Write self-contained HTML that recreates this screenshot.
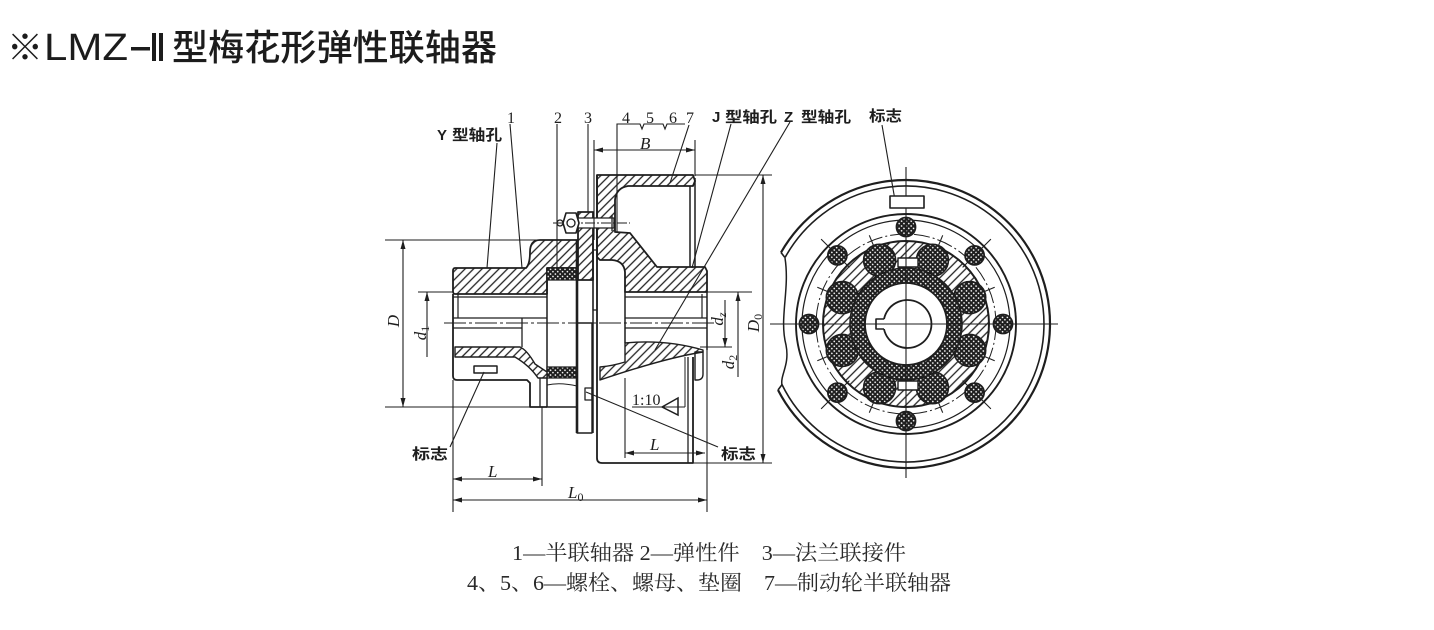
<!DOCTYPE html>
<html><head><meta charset="utf-8">
<style>
html,body{margin:0;padding:0;background:#fff;}
body{width:1434px;height:630px;position:relative;overflow:hidden;}
svg{position:absolute;left:0;top:0;}
.n{font-family:"Liberation Serif",serif;font-size:16px;fill:#1e1e1e;}
.i{font-family:"Liberation Serif",serif;font-size:17px;font-style:italic;fill:#1e1e1e;}
.c{font-family:"Liberation Sans","Noto Sans CJK SC",sans-serif;font-size:15px;font-weight:bold;fill:#1e1e1e;}
.cap{font-family:"Liberation Serif","Noto Serif CJK SC",serif;font-size:21px;fill:#2a2a2a;}
.t{font-family:"Liberation Sans","Noto Sans CJK SC",sans-serif;fill:#1c1c1c;font-weight:500;}
</style></head><body>
<svg width="1434" height="630" viewBox="0 0 1434 630" xmlns="http://www.w3.org/2000/svg">
<defs>
<pattern id="h" width="6" height="6" patternUnits="userSpaceOnUse" patternTransform="rotate(45)">
<rect width="6" height="6" fill="#fff"/>
<line x1="3" y1="0" x2="3" y2="6" stroke="#222" stroke-width="1.3"/>
</pattern>
<pattern id="x" width="3.4" height="3.4" patternUnits="userSpaceOnUse" patternTransform="rotate(45)">
<rect width="3.4" height="3.4" fill="#1e1e1e"/>
<circle cx="1.7" cy="1.7" r="0.85" fill="#fff"/>
</pattern>
</defs>
<rect width="1434" height="630" fill="#fff"/>

<!-- Title -->
<text x="7" y="60" class="t" font-size="36" font-family="Noto Sans CJK SC">※</text>
<text x="44" y="60" class="t" font-size="38" textLength="84" lengthAdjust="spacingAndGlyphs">LMZ</text>
<rect x="131" y="47" width="19" height="3.5" fill="#1c1c1c"/>
<rect x="152" y="33" width="4" height="28" fill="#1c1c1c"/>
<rect x="159" y="33" width="4" height="28" fill="#1c1c1c"/>
<text x="172" y="60" class="t" font-size="36" textLength="325" lengthAdjust="spacingAndGlyphs">型梅花形弹性联轴器</text>

<!-- LEFT DRAWING -->
<g fill="none" stroke="#1e1e1e" stroke-width="1.8" stroke-linejoin="round">
<!-- left hub upper hatched -->
<path d="M455,268 L526,268 Q530,264 530,252 Q530,240 540,240 L577,240 L577,268 L547,268 L547,294 L455,294 Q453,294 453,291 L453,271 Q453,268 455,268 Z" fill="url(#h)"/>
<!-- elastic element -->
<rect x="547" y="268" width="30" height="139" stroke-width="1.5"/>
<rect x="547" y="268" width="30" height="12" fill="url(#x)" stroke-width="1.2"/>
<rect x="547" y="367" width="30" height="11" fill="url(#x)" stroke-width="1.2"/>
<path d="M547,385 Q560,382 577,386" stroke-width="1"/>
<!-- part 3 upper -->
<rect x="578" y="212" width="15" height="68" fill="url(#h)"/>
<!-- part 7 upper -->
<path d="M597,175 L693,175 L695,181 L693,186 L628,186 Q616,188 615,200 L615,232 L630,233 L657,267 L705,267 L707,271 L707,292 L625,292 L625,272 Q624,261 612,260 L600,260 L597,257 Z" fill="url(#h)"/>
<line x1="690" y1="186" x2="690" y2="267" stroke-width="1.5"/>
<line x1="695" y1="178" x2="695" y2="267" stroke-width="1.5"/>
<!-- thick vertical and slot -->
<line x1="577" y1="240" x2="577" y2="433" stroke-width="2.6"/>
<line x1="593" y1="240" x2="593" y2="433" stroke-width="1.5"/>
<line x1="597" y1="175" x2="597" y2="458" stroke-width="1.8"/>
<rect x="593" y="250" width="4" height="60" stroke-width="1.2"/>
<!-- bolt -->
<rect x="578" y="218" width="36" height="10" fill="#fff" stroke-width="1.3"/>
<line x1="553" y1="223" x2="630" y2="223" stroke-width="1" stroke-dasharray="10 2 2 2"/>
<polygon points="566,213 576,213 579,223 576,233 566,233 563,223" fill="#fff" stroke-width="1.6"/>
<circle cx="571" cy="223" r="4" stroke-width="1.3"/>
<circle cx="560" cy="223" r="3" stroke-width="1.3"/>
<line x1="612" y1="215" x2="612" y2="231" stroke-width="1.3"/>
<!-- bore lines upper -->
<line x1="453" y1="297" x2="547" y2="297" stroke-width="1.2"/>
<line x1="453" y1="318" x2="547" y2="318" stroke-width="1.2"/>
<line x1="453" y1="294" x2="453" y2="376" stroke-width="1.8"/>
<line x1="458" y1="294" x2="458" y2="318" stroke-width="1.2"/>
<line x1="625" y1="297" x2="707" y2="297" stroke-width="1.2"/>
<line x1="625" y1="318" x2="707" y2="318" stroke-width="1.2"/>
<line x1="625" y1="292" x2="625" y2="343" stroke-width="1.5"/>
<line x1="702" y1="294" x2="702" y2="318" stroke-width="1.2"/>
<line x1="707" y1="292" x2="707" y2="350" stroke-width="1.5"/>
<!-- lower -->
<line x1="453" y1="328" x2="522" y2="328" stroke-width="1.2"/>
<line x1="625" y1="328" x2="707" y2="328" stroke-width="1.2"/>
<line x1="522" y1="318" x2="522" y2="347" stroke-width="1.3"/>
<path d="M453,376 Q453,380 457,380 L527,380 L530,383 L530,407 L547,407"/>
<line x1="540" y1="372" x2="540" y2="407" stroke-width="1.3"/>
<path d="M455,347 L520,347 Q527,350 535,364 L547,372 L547,378 L538,378 Q530,366 515,357 L455,357 Z" fill="url(#h)" stroke-width="1.4"/>
<rect x="474" y="366" width="23" height="7" stroke-width="1.5"/>
<rect x="577" y="323" width="15" height="110" stroke-width="1.4"/>
<rect x="585" y="388" width="7" height="12" stroke-width="1.3"/>
<path d="M597,458 Q597,463 602,463 L693,463 L693,357"/>
<line x1="688" y1="357" x2="688" y2="463" stroke-width="1.3"/>
<line x1="685" y1="357" x2="685" y2="407" stroke-width="1"/>
<path d="M625,343 Q665,339 703,350 L703,352 Q665,358 600,380 L600,367 Q612,366 625,362 Z" fill="url(#h)" stroke-width="1.4"/>
<path d="M695,352 L703,352 L703,374 Q703,380 697,380 L695,380 Z" stroke-width="1.4"/>
</g>

<!-- center line -->
<line x1="444" y1="323" x2="715" y2="323" stroke="#1e1e1e" stroke-width="1.1" stroke-dasharray="22 3 3 3"/>

<!-- dimension and leader lines -->
<g stroke="#1e1e1e" stroke-width="1.1" fill="none">
<line x1="385" y1="240" x2="578" y2="240"/>
<line x1="385" y1="407" x2="547" y2="407"/>
<line x1="403" y1="240" x2="403" y2="407"/>
<line x1="418" y1="292" x2="453" y2="292"/>
<line x1="427" y1="292" x2="427" y2="357"/>
<line x1="707" y1="292" x2="752" y2="292"/>
<line x1="738" y1="292" x2="738" y2="377"/>
<line x1="700" y1="347" x2="732" y2="347"/>
<line x1="725" y1="300" x2="725" y2="347"/>
<line x1="695" y1="175" x2="772" y2="175"/>
<line x1="690" y1="463" x2="772" y2="463"/>
<line x1="763" y1="175" x2="763" y2="463"/>
<line x1="594" y1="140" x2="594" y2="240"/>
<line x1="695" y1="140" x2="695" y2="176"/>
<line x1="594" y1="150" x2="695" y2="150"/>
<path d="M617,232 L617,124 L640,124 L642,129 L644,124 L663,124 L665,129 L667,124 L685,124"/>
<line x1="453" y1="380" x2="453" y2="512"/>
<line x1="542" y1="407" x2="542" y2="486"/>
<line x1="707" y1="350" x2="707" y2="512"/>
<line x1="625" y1="378" x2="625" y2="458"/>
<line x1="453" y1="479" x2="542" y2="479"/>
<line x1="453" y1="500" x2="707" y2="500"/>
<line x1="625" y1="453" x2="705" y2="453"/>
<!-- leaders -->
<line x1="497" y1="143" x2="487" y2="268"/>
<line x1="510" y1="124" x2="522" y2="268"/>
<line x1="557" y1="124" x2="557" y2="268"/>
<line x1="588" y1="124" x2="588" y2="212"/>
<line x1="689" y1="125" x2="670" y2="183"/>
<line x1="731" y1="124" x2="692" y2="268"/>
<line x1="790" y1="122" x2="655" y2="350"/>
<line x1="450" y1="447" x2="484" y2="372"/>
<line x1="718" y1="447" x2="586" y2="392"/>
<line x1="632" y1="407" x2="685" y2="407"/>
<polygon points="662,407 678,398 678,415" stroke-width="1.5"/>
</g>
<!-- arrowheads -->
<g fill="#1e1e1e">
<polygon points="594,150 603,147.5 603,152.5"/>
<polygon points="695,150 686,147.5 686,152.5"/>
<polygon points="403,240 400.5,249 405.5,249"/>
<polygon points="403,407 400.5,398 405.5,398"/>
<polygon points="427,292 424.5,301 429.5,301"/>
<polygon points="725,347 722.5,338 727.5,338"/>
<polygon points="738,292 735.5,301 740.5,301"/>
<polygon points="763,175 760.5,184 765.5,184"/>
<polygon points="763,463 760.5,454 765.5,454"/>
<polygon points="453,479 462,476.5 462,481.5"/>
<polygon points="542,479 533,476.5 533,481.5"/>
<polygon points="453,500 462,497.5 462,502.5"/>
<polygon points="707,500 698,497.5 698,502.5"/>
<polygon points="625,453 634,450.5 634,455.5"/>
<polygon points="705,453 696,450.5 696,455.5"/>
</g>

<!-- left drawing labels -->
<text x="507" y="123" class="n">1</text>
<text x="554" y="123" class="n">2</text>
<text x="584" y="123" class="n">3</text>
<text x="622" y="123" class="n">4</text>
<text x="646" y="123" class="n">5</text>
<text x="669" y="123" class="n">6</text>
<text x="686" y="123" class="n">7</text>
<text x="437" y="140" class="c" font-family="Liberation Sans">Y</text>
<text x="452" y="140" class="c" textLength="50" lengthAdjust="spacingAndGlyphs">型轴孔</text>
<text x="712" y="122" class="c" font-family="Liberation Sans">J</text>
<text x="725" y="122" class="c" textLength="52" lengthAdjust="spacingAndGlyphs">型轴孔</text>
<text x="784" y="122" class="c" font-family="Liberation Sans">Z</text>
<text x="801" y="122" class="c" textLength="50" lengthAdjust="spacingAndGlyphs">型轴孔</text>
<text x="869" y="121" class="c" textLength="33" lengthAdjust="spacingAndGlyphs">标志</text>
<text x="412" y="459" class="c" textLength="36" lengthAdjust="spacingAndGlyphs">标志</text>
<text x="721" y="459" class="c" textLength="35" lengthAdjust="spacingAndGlyphs">标志</text>
<text x="640" y="149" class="i">B</text>
<text x="488" y="477" class="i">L</text>
<text x="568" y="498" class="i">L<tspan font-size="12" dy="3" font-style="normal">0</tspan></text>
<text x="650" y="450" class="i">L</text>
<text x="632" y="405" class="n">1:10</text>
<text transform="translate(399,321) rotate(-90)" class="i" text-anchor="middle">D</text>
<text transform="translate(426,333) rotate(-90)" class="i" text-anchor="middle">d<tspan font-size="12" dy="3" font-style="normal">1</tspan></text>
<text transform="translate(723,319) rotate(-90)" class="i" text-anchor="middle">d<tspan font-size="12" dy="3">z</tspan></text>
<text transform="translate(734,362) rotate(-90)" class="i" text-anchor="middle">d<tspan font-size="12" dy="3" font-style="normal">2</tspan></text>
<text transform="translate(759,323) rotate(-90)" class="i" text-anchor="middle">D<tspan font-size="12" dy="3" font-style="normal">0</tspan></text>

<!-- RIGHT VIEW -->
<g fill="none" stroke="#1e1e1e" stroke-linejoin="round">
<path d="M781,252.5 A144,144 0 1 1 778,390" stroke-width="2.2"/>
<path d="M785,257.6 A138,138 0 1 1 782,384.6" stroke-width="1.6"/>
<line x1="781" y1="252.5" x2="785" y2="257.6" stroke-width="1.6"/>
<line x1="778" y1="390" x2="782" y2="384.6" stroke-width="1.6"/>
<path d="M785,258 C790,290 779,318 786,345 C790,365 780,375 782,385" stroke-width="1.5"/>
<circle cx="906" cy="324" r="110" stroke-width="1.9"/>
<circle cx="906" cy="324" r="104" stroke-width="1.2"/>
<circle cx="906" cy="324" r="90" stroke-width="1" stroke-dasharray="16 3 2 3"/>
<circle cx="906" cy="324" r="83" stroke-width="2" fill="url(#h)"/>
<!-- spider lobes -->
<g fill="url(#x)" stroke-width="1.6">
<circle cx="932.4" cy="260.3" r="16"/>
<circle cx="879.6" cy="260.3" r="16"/>
<circle cx="969.7" cy="297.6" r="16"/>
<circle cx="842.3" cy="297.6" r="16"/>
<circle cx="969.7" cy="350.4" r="16"/>
<circle cx="842.3" cy="350.4" r="16"/>
<circle cx="932.4" cy="387.7" r="16"/>
<circle cx="879.6" cy="387.7" r="16"/>
<circle cx="906" cy="324" r="56"/>
</g>
<rect x="898" y="258" width="20" height="9" fill="#fff" stroke-width="1.4"/>
<rect x="898" y="381" width="20" height="9" fill="#fff" stroke-width="1.4"/>
<circle cx="906" cy="324" r="41" fill="#fff" stroke-width="1.8"/>
<path d="M884,319 L876,319 L876,329 L884,329" stroke-width="1.6"/>
<path d="M884,319 A24,24 0 1 1 884,329" stroke-width="1.8"/>
<!-- bolts -->
<g fill="url(#x)" stroke-width="1.8">
<circle cx="906" cy="227" r="9.5"/>
<circle cx="906" cy="421" r="9.5"/>
<circle cx="809" cy="324" r="9.5"/>
<circle cx="1003" cy="324" r="9.5"/>
<circle cx="974.6" cy="255.4" r="9.5"/>
<circle cx="837.4" cy="255.4" r="9.5"/>
<circle cx="974.6" cy="392.6" r="9.5"/>
<circle cx="837.4" cy="392.6" r="9.5"/>
</g>
<g stroke-width="1.1">
<line x1="849.4" y1="267.4" x2="821.1" y2="239.1"/>
<line x1="962.6" y1="267.4" x2="990.9" y2="239.1"/>
<line x1="849.4" y1="380.6" x2="821.1" y2="408.9"/>
<line x1="962.6" y1="380.6" x2="990.9" y2="408.9"/>
<line x1="938.1" y1="246.4" x2="942.7" y2="235.3"/>
<line x1="873.9" y1="246.4" x2="869.3" y2="235.3"/>
<line x1="983.6" y1="291.9" x2="994.7" y2="287.3"/>
<line x1="828.4" y1="291.9" x2="817.3" y2="287.3"/>
<line x1="983.6" y1="356.1" x2="994.7" y2="360.7"/>
<line x1="828.4" y1="356.1" x2="817.3" y2="360.7"/>
<line x1="938.1" y1="401.6" x2="942.7" y2="412.7"/>
<line x1="873.9" y1="401.6" x2="869.3" y2="412.7"/>
<line x1="906" y1="167" x2="906" y2="478"/>
<line x1="770" y1="324" x2="1058" y2="324"/>
<line x1="882" y1="125" x2="896" y2="206"/>
</g>
<rect x="890" y="196" width="34" height="12" fill="#fff" stroke-width="1.6"/>
</g>

<!-- caption -->
<text x="512" y="560" class="cap" textLength="394" lengthAdjust="spacingAndGlyphs">1—半联轴器 2—弹性件　3—法兰联接件</text>
<text x="467" y="590" class="cap" textLength="484" lengthAdjust="spacingAndGlyphs">4、5、6—螺栓、螺母、垫圈　7—制动轮半联轴器</text>
</svg>
</body></html>
